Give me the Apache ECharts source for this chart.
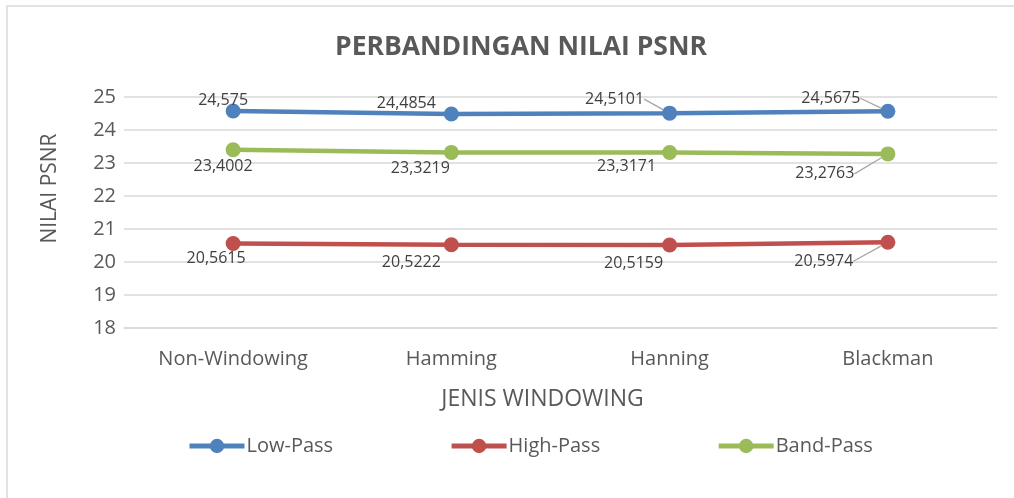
<!DOCTYPE html>
<html><head><meta charset="utf-8">
<script src="https://cdn.jsdelivr.net/npm/echarts@6/dist/echarts.min.js"></script>
<style>html,body{margin:0;padding:0;background:#fff}#c{width:1014px;height:498px}</style>
</head><body><div id="c"></div>
<script>
const categories = ['Non-Windowing', 'Hamming', 'Hanning', 'Blackman'];
const lowPass = [24.575, 24.4854, 24.5101, 24.5675];
const highPass = [20.5615, 20.5222, 20.5159, 20.5974];
const bandPass = [23.4002, 23.3219, 23.3171, 23.2763];
const yTicks = [18, 19, 20, 21, 22, 23, 24, 25];

// label offsets (dx, dy) relative to points, and leader-line flags
const lowOff = [[-10, -11], [-45, -11], [-55, -14], [-57, -13]];
const highOff = [[-17, 15], [-40, 18], [-36, 18], [-64, 19]];
const bandOff = [[-10, 17], [-31, 16], [-43, 14], [-63, 20]];
const offsets = [lowOff, highOff, bandOff];
const leaders = [[false, false, true, true], [false, false, false, true], [false, false, false, true]];

const fmt = v => String(v).replace('.', ',');
const font = 'Open Sans, Liberation Sans, sans-serif';

function mk(name, data, color, si) {
  return {
    name, type: 'line', data: data.map((v, i) => ({
      value: v,
      labelLine: { show: leaders[si][i], lineStyle: { color: '#a6a6a6', width: 1.3 } }
    })),
    symbol: 'circle', symbolSize: 15,
    lineStyle: { width: 4.5, color }, itemStyle: { color },
    label: { show: true, position: 'inside', formatter: p => fmt(p.value), color: '#404040', fontSize: 16, fontFamily: font },
    labelLine: { show: false },
    labelLayout: p => ({ dx: offsets[si][p.dataIndex][0], dy: offsets[si][p.dataIndex][1] }),
    z: 3 - si
  };
}

const chart = echarts.init(document.getElementById('c'), null, { renderer: 'canvas' });
chart.setOption({
  animation: false,
  backgroundColor: '#fff',
  graphic: [{ type: 'rect', shape: { x: 7, y: 6, width: 1030, height: 520 }, style: { fill: 'none', stroke: '#d9d9d9', lineWidth: 1.5 }, silent: true }],
  title: { text: 'PERBANDINGAN NILAI PSNR', left: 330, top: 29, textStyle: { color: '#595959', fontSize: 26.5, fontWeight: 'bold', fontFamily: font } },
  legend: {
    bottom: 37, left: 182, itemWidth: 55, itemHeight: 18, itemGap: 116,
    lineStyle: { width: 5 },
    textStyle: { color: '#595959', fontSize: 20, fontFamily: font, padding: [0, 0, 0, -3] },
    data: ['Low-Pass', 'High-Pass', 'Band-Pass']
  },
  grid: { left: 124, right: 17, top: 97, bottom: 170, containLabel: false },
  xAxis: {
    type: 'category', data: categories, boundaryGap: true,
    name: 'JENIS WINDOWING', nameLocation: 'middle', nameGap: 60,
    nameTextStyle: { color: '#595959', fontSize: 23, fontFamily: font, padding: [0, 36, 0, 0] },
    axisLine: { lineStyle: { color: '#d9d9d9', width: 1.5 } }, axisTick: { show: false },
    axisLabel: { color: '#595959', fontSize: 20, fontFamily: font, margin: 21 }
  },
  yAxis: {
    type: 'value', min: yTicks[0], max: yTicks[yTicks.length - 1], interval: 1,
    name: 'NILAI PSNR', nameLocation: 'middle', nameGap: 63,
    nameTextStyle: { color: '#595959', fontSize: 21, fontFamily: font, padding: [0, 0, 0, 48] },
    axisLine: { show: false }, axisTick: { show: false },
    axisLabel: { color: '#595959', fontSize: 20, fontFamily: font, margin: 8 },
    splitLine: { lineStyle: { color: '#d9d9d9', width: 1.5 } }
  },
  series: [
    mk('Low-Pass', lowPass, '#4F81BD', 0),
    mk('High-Pass', highPass, '#C0504D', 1),
    mk('Band-Pass', bandPass, '#9BBB59', 2)
  ]
});
</script></body></html>
